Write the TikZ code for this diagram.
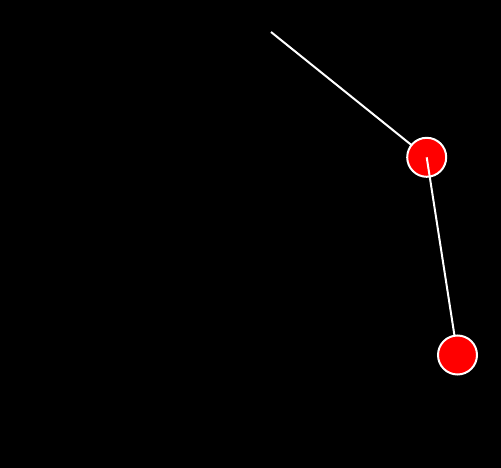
\documentclass[tikz,border=0pt]{standalone}
\begin{document}
\begin{tikzpicture}[x=1pt,y=-1pt,
  rod/.style={draw=white,line width=2pt},
  bob/.style={circle,fill=red,draw=white,line width=2pt,minimum size=39pt,inner sep=0pt}]
\fill[black] (0,0) rectangle (501,468);
\useasboundingbox (0,0) rectangle (501,468);
\coordinate (pivot) at (271,32);
\coordinate (c1) at (426.7,157.3);
\coordinate (c2) at (457.5,355);
\draw[rod] (pivot) -- (c1);
\node[bob] (b1) at (c1) {};
\draw[rod] (b1.center) -- (c2);
\node[bob] (b2) at (c2) {};
\end{tikzpicture}
\end{document}
